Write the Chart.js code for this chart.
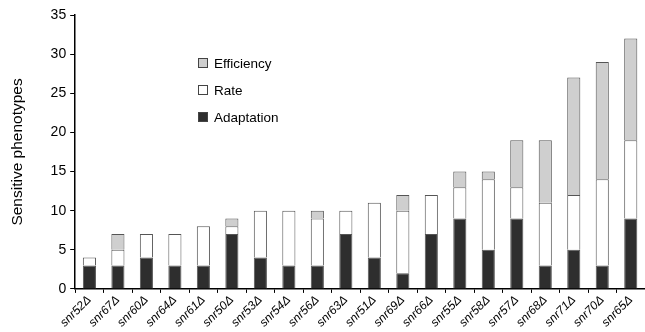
<!DOCTYPE html>
<html>
<head>
<meta charset="utf-8">
<script src="https://cdn.jsdelivr.net/npm/chart.js@4/dist/chart.umd.min.js"></script>
<style>
  html, body { margin: 0; padding: 0; background: #fff; }
  #wrap { width: 645px; height: 332px; position: relative; }
</style>
</head>
<body>
<div id="wrap"><canvas id="chart"></canvas></div>
<script>
// strains, sorted by total number of sensitive phenotypes
const strains = ["snr52Δ", "snr67Δ", "snr60Δ", "snr64Δ", "snr61Δ", "snr50Δ", "snr53Δ", "snr54Δ", "snr56Δ", "snr63Δ",
  "snr51Δ", "snr69Δ", "snr66Δ", "snr55Δ", "snr58Δ", "snr57Δ", "snr68Δ", "snr71Δ", "snr70Δ", "snr65Δ"];
const adaptation = [3, 3, 4, 3, 3, 7, 4, 3, 3, 7, 4, 2, 7, 9, 5, 9, 3, 5, 3, 9];
const rate       = [1, 2, 3, 4, 5, 1, 6, 7, 6, 3, 7, 8, 5, 4, 9, 4, 8, 7, 11, 10];
const efficiency = [0, 2, 0, 0, 0, 1, 0, 0, 1, 0, 0, 2, 0, 2, 1, 6, 8, 15, 15, 13];
const yTicks = [0, 5, 10, 15, 20, 25, 30, 35];

const font = "'Liberation Sans', Arial, sans-serif";

// legend drawn inside the plot, top-down: Efficiency, Rate, Adaptation
const innerLegend = {
  id: "innerLegend",
  afterDraw(chart) {
    const ctx = chart.ctx;
    const items = chart.data.datasets.slice().reverse();
    ctx.save();
    ctx.font = "13.5px " + font;
    ctx.textBaseline = "middle";
    items.forEach((ds, i) => {
      const y = 63 + i * 27;
      ctx.fillStyle = ds.backgroundColor;
      ctx.fillRect(198, y - 5, 10, 10);
      ctx.strokeStyle = "#444";
      ctx.lineWidth = 1;
      ctx.strokeRect(198.5, y - 4.5, 9, 9);
      ctx.fillStyle = "#000";
      ctx.fillText(ds.label, 214, y + 1);
    });
    ctx.restore();
  }
};

const bar = { barPercentage: 0.92, categoryPercentage: 0.5, borderWidth: 1, borderColor: "#555" };

new Chart(document.getElementById("chart"), {
  type: "bar",
  data: {
    labels: strains,
    datasets: [
      { label: "Adaptation", data: adaptation, backgroundColor: "#2e2e2e", ...bar },
      { label: "Rate", data: rate, backgroundColor: "#ffffff", ...bar },
      { label: "Efficiency", data: efficiency, backgroundColor: "#cfcfcf", ...bar }
    ]
  },
  options: {
    responsive: true,
    maintainAspectRatio: false,
    animation: false,
    layout: { padding: { top: 15, right: 0, left: 0, bottom: 2 } },
    plugins: { legend: { display: false }, tooltip: { enabled: false } },
    scales: {
      x: {
        stacked: true,
        grid: { display: true, drawOnChartArea: false, offset: true, color: "#000", tickLength: 4 },
        border: { color: "#000", width: 1.5 },
        ticks: {
          color: "#000", minRotation: 45, maxRotation: 45, padding: 0,
          font: { family: font, size: 12, style: "italic" }
        }
      },
      y: {
        stacked: true,
        min: 0,
        max: 35,
        afterBuildTicks(axis) { axis.ticks = yTicks.map(v => ({ value: v })); },
        grid: { display: true, drawOnChartArea: false, color: "#000", tickLength: 5 },
        border: { color: "#000", width: 1.5 },
        ticks: { color: "#000", padding: 4, font: { family: font, size: 14 } },
        title: { display: true, text: "Sensitive phenotypes", color: "#000", padding: { top: 8, bottom: 20 }, font: { family: font, size: 15.5 } }
      }
    }
  },
  plugins: [innerLegend]
});
</script>
</body>
</html>
